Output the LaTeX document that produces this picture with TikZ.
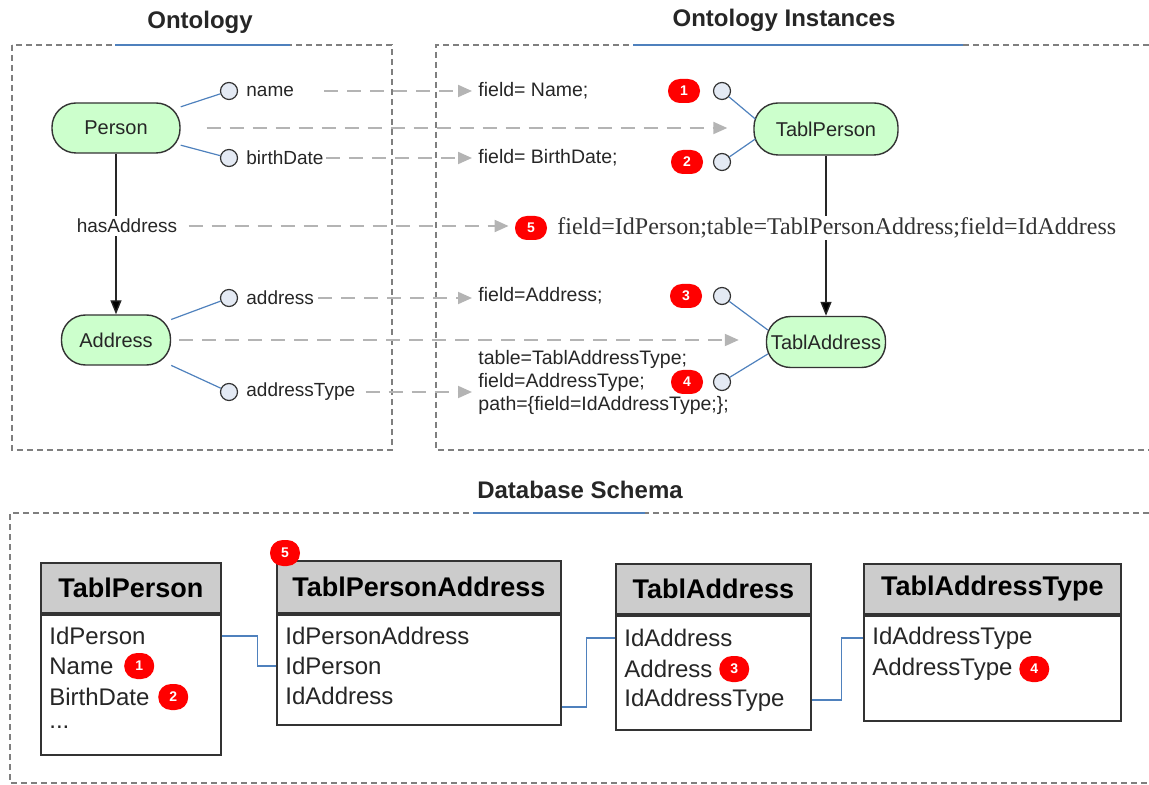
\documentclass[tikz,border=0pt]{standalone}
\usepackage{fontspec}
\setmainfont{Liberation Sans}
\newfontfamily\serifont{Liberation Serif}
\usetikzlibrary{arrows.meta,positioning,calc}
\definecolor{nodegreen}{HTML}{CCFFCC}
\definecolor{propfill}{HTML}{E4EAF4}
\definecolor{linkblue}{HTML}{4F81BD}
\definecolor{dashgray}{HTML}{B4B4B4}
\definecolor{boxgray}{HTML}{7F7F7F}
\definecolor{badgered}{HTML}{FF0000}
\definecolor{headgray}{HTML}{CCCCCC}
\begin{document}
\begin{tikzpicture}[x=0.5pt,y=-0.5pt,
 font=\fontsize{10}{12}\selectfont,
 onode/.style={draw=black!80, fill=nodegreen, rounded corners=12pt, line width=0.7pt, inner sep=0pt, font=\fontsize{10}{12}\selectfont, text=black!85},
 prop/.style={circle, draw=black!80, fill=propfill, line width=0.6pt, minimum size=8.5pt, inner sep=0pt},
 plabel/.style={anchor=west, inner sep=0pt, font=\fontsize{9.5}{11}\selectfont, text=black!85},
 ftext/.style={anchor=west, inner sep=0pt, font=\fontsize{9.75}{11.5}\selectfont, text=black!85},
 badge/.style={fill=badgered, rounded corners=5.9pt, minimum width=16pt, minimum height=12pt, inner sep=0pt, text=white, font=\bfseries\fontsize{7}{8}\selectfont},
 sbadge/.style={badge, minimum width=15pt, minimum height=13pt, rounded corners=6.4pt},
 blueline/.style={draw=linkblue, line width=0.6pt},
 garrow/.style={draw=dashgray, line width=1pt, dash pattern=on 7pt off 4.5pt, -{Triangle[length=7pt,width=6pt,fill=dashgray]}},
 blackarrow/.style={draw=black!85, line width=0.7pt, -{Triangle[length=7pt,width=5.5pt,fill=black]}},
 boxframe/.style={draw=boxgray, line width=0.6pt, dash pattern=on 3pt off 2pt},
 titletext/.style={font=\bfseries\fontsize{12}{14}\selectfont, text=black!85},
 thead/.style={draw=black!80, fill=headgray, line width=0.9pt, anchor=north west, inner sep=0pt, font=\bfseries\fontsize{13.5}{16}\selectfont},
 tbody/.style={draw=black!80, fill=white, line width=0.9pt, anchor=north west, inner sep=0pt},
 row/.style={anchor=west, inner sep=1pt, font=\fontsize{12}{14}\selectfont, text=black!85}
]
\useasboundingbox (0,0) rectangle (1149,785);

% frames
\draw[boxframe] (12,45) rectangle (392,450);
\draw[boxframe] (1149,45) -- (436,45) -- (436,450) -- (1149,450);
\draw[boxframe] (1149,513) -- (10,513) -- (10,783) -- (1149,783);
\draw[linkblue, line width=0.8pt] (115,45) -- (290,45);
\draw[linkblue, line width=0.8pt] (633,45) -- (963,45);
\draw[linkblue, line width=0.8pt] (473,513) -- (645,513);

% titles
\node[titletext] (t1) at (200,22) {Ontology};
\node[titletext] (t2) at (784,20) {Ontology Instances};
\node[titletext] (t3) at (580,490) {Database Schema};

% ontology
\node[onode, minimum width=64pt, minimum height=25pt] (person) at (116,128) {Person};
\node[onode, minimum width=54.5pt, minimum height=25pt] (address) at (116,340) {Address};
\node[prop] (cname) at (229,91) {};
\node[prop] (cbirth) at (229,158) {};
\node[prop] (caddr) at (229,298) {};
\node[prop] (ctype) at (229,392) {};
\node[plabel] (lname) at (246,91) {name};
\node[plabel] (lbirth) at (246,158) {birthDate};
\node[plabel] (laddr) at (246,298) {address};
\node[plabel] (ltype) at (246,392) {addressType};
\draw[blueline] (person) -- (cname);
\draw[blueline] (person) -- (cbirth);
\draw[blueline] (address) -- (caddr);
\draw[blueline] (address) -- (ctype);
\draw[blackarrow] (person) -- (address);
\node[plabel, anchor=center, fill=white, inner sep=1.5pt] (has) at (127,226) {hasAddress};

% instances
\node[onode, minimum width=72pt, minimum height=26pt] (tperson) at (826,129) {TablPerson};
\node[onode, minimum width=59.5pt, minimum height=25.5pt] (taddr) at (826,342) {TablAddress};
\draw[blackarrow] (tperson) -- (taddr);
\node[ftext] (fname) at (478,91) {field= Name;};
\node[ftext] (fbirth) at (478,158) {field= BirthDate;};
\node[ftext] (faddr) at (478,296) {field=Address;};
\node[ftext, align=left] (ftype) at (478,382) {table=TablAddressType;\\field=AddressType;\\path=\{field=IdAddressType;\};};
\node[badge] (b1) at (684,91) {1};
\node[badge] (b2) at (687,162) {2};
\node[badge] (b3) at (686,296) {3};
\node[badge] (b4) at (687,382) {4};
\node[badge] (b5) at (531,228) {5};
\node[fill=white, inner sep=1pt, anchor=west, font=\serifont\fontsize{12}{14}\selectfont, text=black!80] (fser) at (555,228) {field=IdPerson;table=TablPersonAddress;field=IdAddress};
\node[prop] (r1) at (722,91) {};
\node[prop] (r2) at (722,162) {};
\node[prop] (r3) at (722,296) {};
\node[prop] (r4) at (722,382) {};
\draw[blueline] (r1) -- ([xshift=1pt,yshift=5pt]tperson.west);
\draw[blueline] (r2) -- ([xshift=1pt,yshift=-5pt]tperson.west);
\draw[blueline] (r3) -- ([xshift=1pt,yshift=6pt]taddr.west);
\draw[blueline] (r4) -- ([xshift=1pt,yshift=-6pt]taddr.west);

% mapping arrows
\draw[garrow, shorten <=15pt, shorten >=3pt] (lname.east) -- (lname.east -| fname.west);
\draw[garrow, shorten <=1pt, shorten >=3pt] (lbirth.east) -- (lbirth.east -| fbirth.west);
\draw[garrow, shorten <=13pt, shorten >=13pt] (person.east) -- (person.east -| tperson.west);
\draw[garrow, shorten <=4pt, shorten >=3pt] (has.east) -- (has.east -| b5.west);
\draw[garrow, shorten <=2pt, shorten >=3pt] (laddr.east) -- (laddr.east -| faddr.west);
\draw[garrow, shorten <=4pt, shorten >=13.5pt] (address.east) -- (address.east -| taddr.west);
\draw[garrow, shorten <=5pt, shorten >=3pt] (ltype.east) -- (ltype.east -| ftype.west);

% database tables
\node[thead, minimum width=90pt, minimum height=25pt] (tpH) at (40,562) {TablPerson};
\node[tbody, minimum width=90pt, minimum height=70pt] (tpB) at (tpH.south west) {};
\node[row] (tp1) at (47,636) {IdPerson};
\node[row] (tp2) at (47,666) {Name};
\node[row] (tp3) at (47,697) {BirthDate};
\node[row] (tp4) at (47,727) {...};
\node[sbadge, right=4pt of tp2] (bb1) {1};
\node[sbadge, right=3pt of tp3] (bb2) {2};

\node[thead, minimum width=142pt, minimum height=26pt] (tpaH) at (276,560) {TablPersonAddress};
\node[tbody, minimum width=142pt, minimum height=55pt] (tpaB) at (tpaH.south west) {};
\node[row] (tpa1) at (283,636) {IdPersonAddress};
\node[row] (tpa2) at (283,666) {IdPerson};
\node[row] (tpa3) at (283,696) {IdAddress};
\node[sbadge] (bb5) at ([xshift=4.5pt,yshift=3.5pt]tpaH.north west) {5};

\node[thead, minimum width=97.5pt, minimum height=25pt] (taH) at (615,563) {TablAddress};
\node[tbody, minimum width=97.5pt, minimum height=57pt] (taB) at (taH.south west) {};
\node[row] (ta1) at (622,638) {IdAddress};
\node[row] (ta2) at (622,669) {Address};
\node[row] (ta3) at (622,700) {IdAddressType};
\node[sbadge, right=2pt of ta2] (bb3) {3};

\node[thead, minimum width=128.5pt, minimum height=25pt] (tatH) at (863,563) {TablAddressType};
\node[tbody, minimum width=128.5pt, minimum height=52.5pt] (tatB) at (tatH.south west) {};
\node[row] (tat1) at (870,638) {IdAddressType};
\node[row] (tat2) at (870,669) {AddressType};
\node[sbadge, right=2pt of tat2] (bb4) {4};

\draw[blueline] (tpB.east |- tp1) -- ++(36,0) |- (tpaB.west |- tpa2);
\draw[blueline] ($(tpaB.east |- tpa3)+(0,11)$) -- ++(25,0) |- (taB.west |- ta1);
\draw[blueline] (taB.east |- ta3) -- ++(30,0) |- (tatB.west |- tat1);
\end{tikzpicture}
\end{document}
